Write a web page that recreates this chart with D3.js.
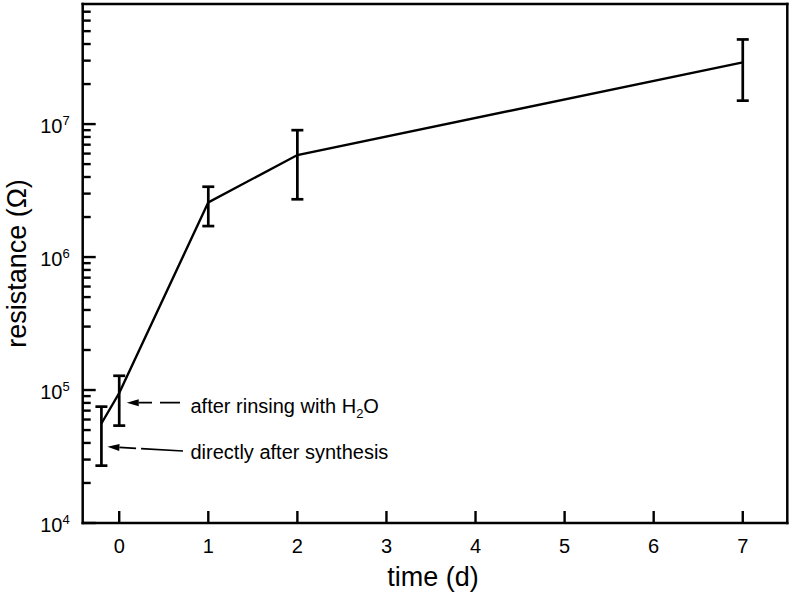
<!DOCTYPE html>
<html>
<head>
<meta charset="utf-8">
<script src="https://cdn.jsdelivr.net/npm/d3@7"></script>
<style>
  html, body { margin: 0; padding: 0; background: #fff; }
  svg { display: block; font-family: "Liberation Sans", Arial, sans-serif; }
</style>
</head>
<body>
<svg id="chart" width="792" height="598"></svg>
<script>
// ---- data ----
const times = [-0.2, 0, 1, 2, 7];
const resistance = [5.6e4, 9.5e4, 2.58e6, 5.85e6, 2.91e7];
const errLow = [2.7e4, 5.4e4, 1.71e6, 2.72e6, 1.5e7];
const errHigh = [7.5e4, 1.28e5, 3.38e6, 9.0e6, 4.33e7];
const xTicks = [0, 1, 2, 3, 4, 5, 6, 7];
const yDecades = [4, 5, 6, 7];
const xTitle = "time (d)";
const yTitle = "resistance (\u03A9)";
const noteRinse = ["after rinsing with H", "2", "O"];
const noteSynth = "directly after synthesis";

// ---- layout ----
const svg = d3.select("#chart");
const L = 82.7, R = 787.3, T = 4, B = 523;
const x = d3.scaleLinear().domain([-0.41, 7.5]).range([L, R]);
const y = d3.scaleLog().domain([1e4, 8e7]).range([B, T]);

const g = svg.append("g");

// frame as four separate lines
const frame = [[L, T, R, T], [R, T, R, B], [R, B, L, B], [L, B, L, T]];
g.selectAll("line.frame").data(frame).enter().append("line")
  .attr("class", "frame")
  .attr("x1", d => d[0]).attr("y1", d => d[1])
  .attr("x2", d => d[2]).attr("y2", d => d[3])
  .attr("stroke", "#000").attr("stroke-width", 2.5)
  .attr("stroke-linecap", "square");

const yMajor = yDecades.map(d => Math.pow(10, d));
const yMinor = [];
yDecades.forEach(d => {
  for (let m = 2; m <= 9; m++) {
    const v = m * Math.pow(10, d);
    if (v < 8e7 * 0.999) yMinor.push(v);
  }
});

// ticks as small filled rectangles pointing into the plot
const tw = 2.4;
g.selectAll("rect.ymin").data(yMinor).enter().append("rect")
  .attr("class", "ymin")
  .attr("x", L).attr("y", d => y(d) - tw / 2)
  .attr("width", 8).attr("height", tw)
  .attr("fill", "#000");
g.selectAll("rect.ymaj").data(yMajor).enter().append("rect")
  .attr("class", "ymaj")
  .attr("x", L).attr("y", d => y(d) - tw / 2)
  .attr("width", 13).attr("height", tw)
  .attr("fill", "#000");
g.selectAll("rect.xt").data(xTicks).enter().append("rect")
  .attr("class", "xt")
  .attr("x", d => x(d) - tw / 2).attr("y", B - 12)
  .attr("width", tw).attr("height", 12)
  .attr("fill", "#000");

// x tick labels
g.selectAll("text.xlab").data(xTicks).enter().append("text")
  .attr("class", "xlab")
  .attr("x", d => x(d)).attr("y", B + 30)
  .attr("text-anchor", "middle")
  .attr("font-size", 20)
  .attr("fill", "#000")
  .text(d => d);

// y tick labels with superscripts
const yl = g.selectAll("text.ylab").data(yDecades).enter().append("text")
  .attr("class", "ylab")
  .attr("x", L - 13)
  .attr("y", d => y(Math.pow(10, d)) + 8.5)
  .attr("text-anchor", "end")
  .attr("font-size", 20)
  .attr("fill", "#000");
yl.append("tspan").text("10");
yl.append("tspan").attr("dy", -8).attr("font-size", 13).text(d => d);

// axis titles
g.append("text")
  .attr("x", (L + R) / 2 - 2).attr("y", 586)
  .attr("text-anchor", "middle").attr("font-size", 27).attr("fill", "#000")
  .text(xTitle);
g.append("text")
  .attr("transform", `translate(26,${(T + B) / 2}) rotate(-90)`)
  .attr("text-anchor", "middle").attr("font-size", 27).attr("fill", "#000")
  .text(yTitle);

// data line
const pts = times.map((t, i) => [t, resistance[i]]);
g.append("path")
  .datum(pts)
  .attr("d", d3.line().x(d => x(d[0])).y(d => y(d[1])))
  .attr("fill", "none").attr("stroke", "#000").attr("stroke-width", 2.4);

// error bars
const cap = 6;
const idx = times.map((t, i) => i);
const eb = g.selectAll("g.eb").data(idx).enter().append("g").attr("class", "eb");
eb.append("line")
  .attr("x1", i => x(times[i])).attr("x2", i => x(times[i]))
  .attr("y1", i => y(errLow[i])).attr("y2", i => y(errHigh[i]))
  .attr("stroke", "#000").attr("stroke-width", 2.7);
eb.append("line")
  .attr("x1", i => x(times[i]) - cap).attr("x2", i => x(times[i]) + cap)
  .attr("y1", i => y(errLow[i])).attr("y2", i => y(errLow[i]))
  .attr("stroke", "#000").attr("stroke-width", 2.7);
eb.append("line")
  .attr("x1", i => x(times[i]) - cap).attr("x2", i => x(times[i]) + cap)
  .attr("y1", i => y(errHigh[i])).attr("y2", i => y(errHigh[i]))
  .attr("stroke", "#000").attr("stroke-width", 2.7);

// annotations with dashed arrows
function arrow(x0, y0, x1, y1, dash) {
  const ang = Math.atan2(y1 - y0, x1 - x0);
  const hl = 12, hw = 3.5;
  const bx = x1 - hl * Math.cos(ang), by = y1 - hl * Math.sin(ang);
  g.append("line")
    .attr("x1", x0).attr("y1", y0).attr("x2", bx).attr("y2", by)
    .attr("stroke", "#000").attr("stroke-width", 1.7)
    .attr("stroke-dasharray", dash);
  const px = -Math.sin(ang) * hw, py = Math.cos(ang) * hw;
  g.append("path")
    .attr("d", `M${x1},${y1}L${bx + px},${by + py}L${bx - px},${by - py}Z`)
    .attr("fill", "#000");
}

{
  const xi = x(times[1]) + 7.5;
  const yi = 402.7;
  arrow(180, yi, xi, yi, "20,8,200");
  const t = g.append("text").attr("x", 190.5).attr("y", yi + 10)
    .attr("font-size", 20).attr("fill", "#000");
  t.append("tspan").text(noteRinse[0]);
  t.append("tspan").attr("font-size", 13).attr("dy", 5).text(noteRinse[1]);
  t.append("tspan").attr("dy", -5).text(noteRinse[2]);
}
{
  const xi = x(times[0]) + 6;
  const yi = 446.7;
  arrow(183, 451, xi, yi, "42,5,200");
  g.append("text").attr("x", 190.5).attr("y", 458.5)
    .attr("font-size", 20).attr("fill", "#000")
    .text(noteSynth);
}
</script>
</body>
</html>
